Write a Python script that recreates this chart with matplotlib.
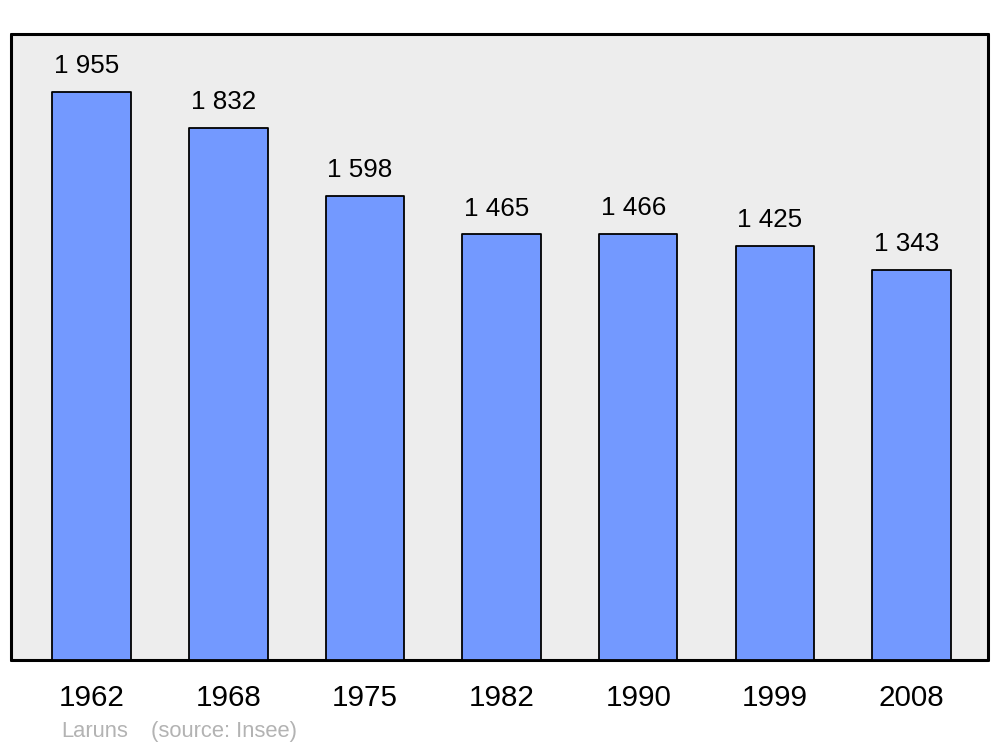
import matplotlib
matplotlib.use("Agg")
import matplotlib.pyplot as plt

years = ["1962", "1968", "1975", "1982", "1990", "1999", "2008"]
population = [1955, 1832, 1598, 1465, 1466, 1425, 1343]
labels = ["1 955", "1 832", "1 598", "1 465", "1 466", "1 425", "1 343"]

plt.rcParams['font.family'] = ['Liberation Sans', 'DejaVu Sans']

fig = plt.figure(figsize=(10, 7.47), dpi=100)
ax = fig.add_axes([0.011, 0.1165, 0.977, 0.838])
ax.set_facecolor('#ededed')

x = list(range(len(years)))
bars = ax.bar(x, population, width=0.575, color='#7399ff', edgecolor='black',
              linewidth=1.3, zorder=3)
for b in bars:
    b.set_joinstyle('round')

for xi, v, lab in zip(x, population, labels):
    ax.annotate(lab, (xi, v), xytext=(-3.5, 13.5), textcoords='offset points',
                ha='center', va='baseline', fontsize=18.7, color='black')

ax.set_xlim(-0.59, 6.56)
ax.set_ylim(0, 2155)
ax.set_xticks(x)
ax.set_xticklabels(years, fontsize=21.3)
ax.tick_params(axis='x', length=0, pad=17)
ax.set_yticks([])
for s in ax.spines.values():
    s.set_linewidth(2.2)
    s.set_capstyle('round')
    s.set_joinstyle('round')

fig.text(0.061, 0.0134, "Laruns", fontsize=15.8, color='#b3b3b3', ha='left', va='baseline')
fig.text(0.151, 0.0134, "(source: Insee)", fontsize=15.8, color='#b3b3b3', ha='left', va='baseline')

fig.savefig("out.png", dpi=100)
